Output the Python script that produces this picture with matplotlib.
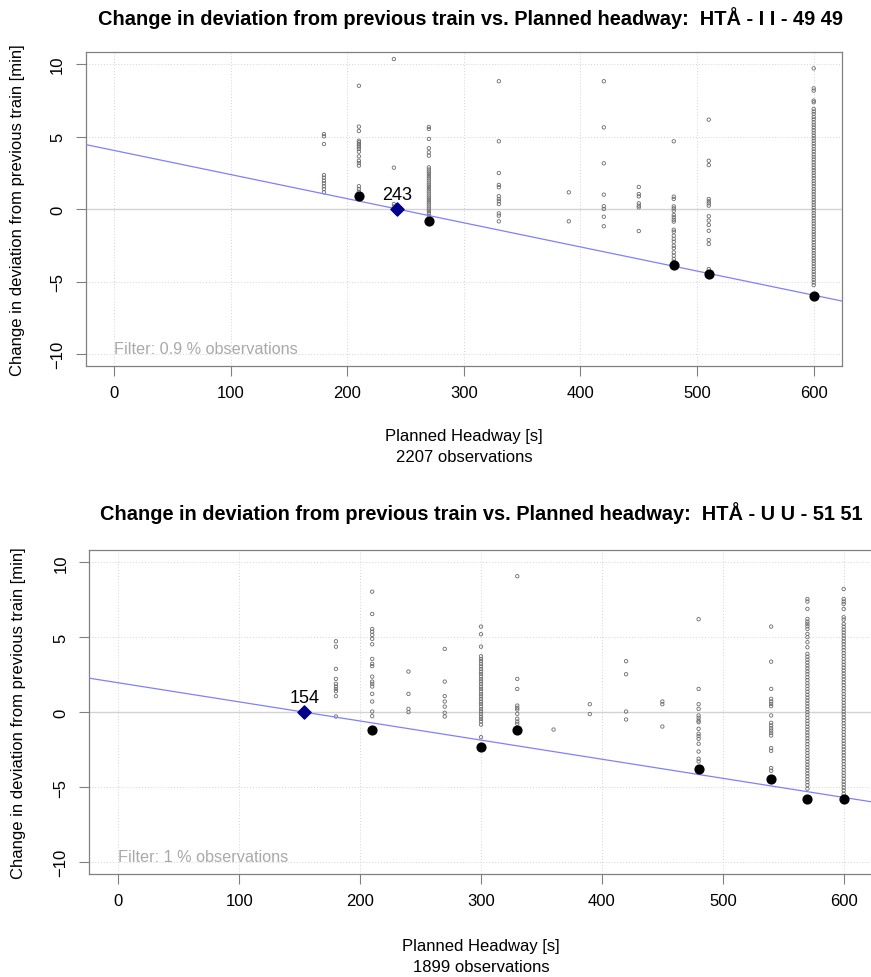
import matplotlib
matplotlib.use("Agg")
import matplotlib.pyplot as plt

plt.rcParams['font.family'] = ['Liberation Sans', 'DejaVu Sans']

# ---- top panel: HTÅ - I I - 49 49 ----
top_title = "Change in deviation from previous train vs. Planned headway:  HTÅ - I I - 49 49"
top_n_obs = 2207
top_filter = "Filter: 0.9 % observations"
top_headways = [180, 210, 240, 270, 330, 390, 420, 450, 480, 510, 600]
top_180 = [5.17, 5.01, 4.48, 2.34, 2.16, 1.95, 1.77, 1.57, 1.38, 1.15]
top_210 = [8.5, 5.68, 5.38, 4.71, 4.6, 4.48, 4.37, 4.25, 4.14, 3.95, 3.63, 3.33,
           3.17, 2.99, 1.57, 1.38, 1.19]
top_240 = [10.34, 2.85, 0.34, 0.18]
top_270 = [5.66, 5.52, 4.83, 4.19, 3.91, 3.68, 2.87, 2.72, 2.57, 2.42, 2.27, 2.12,
           1.97, 1.82, 1.67, 1.52, 1.37, 1.22, 1.07, 0.92, 0.77, 0.62, 0.47, 0.32,
           0.17, 0.02, -0.13, -0.28, -0.46]
top_330 = [8.81, 4.67, 2.48, 1.66, 1.5, 0.88, 0.69, 0.53, 0.34, -0.3, -0.46, -0.85]
top_390 = [1.15, -0.85]
top_420 = [8.81, 5.63, 3.15, 0.99, 0.19, 0.0, -0.53, -1.19]
top_450 = [1.52, 1.03, 0.87, 0.39, 0.23, 0.11, -1.52]
top_480 = [4.67, 0.85, 0.69, 0.18, 0.04, -0.12, -0.41, -0.57, -0.74, -0.87, -1.43,
           -1.57, -1.84, -2.07, -2.26, -2.53, -2.71, -2.99, -3.22, -3.45, -3.63]
top_510 = [6.16, 3.33, 3.03, 0.69, 0.53, 0.39, 0.23, -0.5, -0.8, -1.1, -1.5, -2.14,
           -2.41, -4.14]
top_600 = [9.7, 8.32, 8.16, 7.47, 7.36, 6.9, 6.72, 6.55, 6.35, 6.18, 5.98, 5.8, 5.62,
           5.43, 5.25, 5.06, 4.88, 4.7, 4.51, 4.33, 4.14, 3.96, 3.77, 3.59, 3.41,
           3.22, 3.04, 2.85, 2.67, 2.49, 2.3, 2.12, 1.93, 1.75, 1.57, 1.38, 1.2, 1.01,
           0.83, 0.64, 0.46, 0.28, 0.09, -0.09, -0.28, -0.46, -0.64, -0.83, -1.01,
           -1.2, -1.38, -1.57, -1.75, -1.93, -2.12, -2.3, -2.49, -2.67, -2.85, -3.04,
           -3.22, -3.41, -3.59, -3.77, -3.96, -4.14, -4.33, -4.51, -4.7, -4.88,
           -5.06, -5.25]
top_low_x = [210, 270, 480, 510, 600]
top_low_y = [0.88, -0.83, -3.84, -4.48, -5.98]
top_intercept = 4.04
top_slope = -0.01664
top_cross = 243

# ---- bottom panel: HTÅ - U U - 51 51 ----
bot_title = "Change in deviation from previous train vs. Planned headway:  HTÅ - U U - 51 51"
bot_n_obs = 1899
bot_filter = "Filter: 1 % observations"
bot_headways = [180, 210, 240, 270, 300, 330, 360, 390, 420, 450, 480, 540, 570, 600]
bot_180 = [4.73, 4.37, 2.89, 2.22, 1.89, 1.71, 1.55, 1.4, 1.07, -0.29]
bot_210 = [8.04, 6.55, 5.55, 5.37, 5.15, 4.89, 4.53, 3.55, 3.22, 3.07, 2.37, 2.04,
           1.89, 1.71, 1.22, 0.71, 0.04, -0.27]
bot_240 = [2.71, 1.22, 0.22, 0.0]
bot_270 = [4.22, 2.04, 1.07, 0.71, 0.37, -0.04, -0.29]
bot_300 = [5.71, 5.2, 4.37, 3.73, 3.55, 3.4, 3.22, 3.05, 2.88, 2.7, 2.55, 2.38, 2.2,
           2.05, 1.88, 1.7, 1.55, 1.38, 1.2, 1.05, 0.88, 0.7, 0.55, 0.38, 0.2, 0.05,
           -0.12, -0.3, -0.45, -0.62, -0.83, -1.67]
bot_330 = [9.07, 2.22, 1.55, 0.44, 0.29, 0.17, -0.11, -0.44, -0.63, -0.78]
bot_360 = [-1.16]
bot_390 = [0.53, -0.13]
bot_420 = [3.4, 2.53, 0.04, -0.49]
bot_450 = [0.71, 0.53, -0.96]
bot_480 = [6.2, 1.55, 0.53, 0.22, -0.22, -0.38, -0.56, -0.67, -1.11, -1.44, -1.6,
           -1.78, -2.11, -2.63, -3.11, -3.29]
bot_540 = [5.71, 3.37, 1.55, 0.89, 0.71, 0.55, 0.4, -0.22, -0.71, -0.89, -1.07,
           -1.23, -1.38, -1.56, -2.4, -2.58, -3.73, -3.91]
bot_570 = [7.55, 7.38, 6.89, 6.22, 6.04, 5.89, 5.73, 5.55, 5.22, 5.0, 4.67, 4.33,
           3.89, 3.7, 3.5, 3.31, 3.11, 2.92, 2.72, 2.53, 2.33, 2.14, 1.94, 1.75, 1.55,
           1.36, 1.16, 0.97, 0.77, 0.58, 0.38, 0.19, 0.0, -0.19, -0.38, -0.58, -0.77,
           -0.97, -1.16, -1.36, -1.55, -1.75, -1.94, -2.14, -2.33, -2.53, -2.72,
           -2.92, -3.11, -3.31, -3.5, -3.7, -3.89, -4.09, -4.28, -4.48, -4.67, -4.87,
           -5.11]
bot_600 = [8.22, 7.55, 7.38, 7.22, 6.89, 6.33, 6.17, 5.89, 5.7, 5.5, 5.31, 5.11,
           4.92, 4.72, 4.53, 4.33, 4.14, 3.94, 3.75, 3.55, 3.36, 3.16, 2.97, 2.77,
           2.58, 2.38, 2.19, 1.99, 1.8, 1.6, 1.41, 1.21, 1.02, 0.82, 0.63, 0.43, 0.24,
           0.04, -0.15, -0.35, -0.54, -0.74, -0.93, -1.13, -1.32, -1.52, -1.71, -1.91,
           -2.1, -2.3, -2.49, -2.69, -2.88, -3.08, -3.27, -3.47, -3.66, -3.86, -4.05,
           -4.25, -4.44, -4.64, -4.83, -5.03, -5.22, -5.45]
bot_low_x = [210, 300, 330, 480, 540, 570, 600]
bot_low_y = [-1.16, -2.33, -1.16, -3.78, -4.45, -5.78, -5.78]
bot_intercept = 1.96
bot_slope = -0.01275
bot_cross = 154

top_cols = [top_180, top_210, top_240, top_270, top_330, top_390, top_420,
            top_450, top_480, top_510, top_600]
bot_cols = [bot_180, bot_210, bot_240, bot_270, bot_300, bot_330, bot_360,
            bot_390, bot_420, bot_450, bot_480, bot_540, bot_570, bot_600]

W, H = 871, 978
fig = plt.figure(figsize=(W / 100, H / 100), dpi=100)


def px_axes(left, top, right, bottom):
    return fig.add_axes([left / W, 1 - bottom / H, (right - left) / W, (bottom - top) / H])


def draw_panel(ax, headways, cols, low_x, low_y, intercept, slope, cross, filt):
    ax.set_xlim(-24, 624)
    ax.set_ylim(-10.8, 10.8)
    for g in range(0, 601, 100):
        ax.axvline(g, color='#d3d3d3', lw=0.7, ls=(0, (1, 2)), zorder=0)
    for g in [-10, -5, 5, 10]:
        ax.axhline(g, color='#d3d3d3', lw=0.7, ls=(0, (1, 2)), zorder=0)
    ax.axhline(0, color='#d3d3d3', lw=1.0, zorder=0)
    for h, vals in zip(headways, cols):
        ax.scatter([h] * len(vals), vals, s=6, facecolors='none',
                   edgecolors='#6a6a6a', linewidths=0.6, zorder=2)
    ax.axline((0, intercept), slope=slope, color='#8080ff', lw=0.9, zorder=3)
    ax.scatter(low_x, low_y, s=40, color='black', zorder=4)
    ax.scatter([cross], [0], marker='D', s=45, color='#00008b', zorder=5)
    ax.annotate(str(cross), (cross, 0), xytext=(0, 10.5), textcoords='offset points',
                ha='center', va='center', fontsize=13)
    ax.text(0, -9.65, filt, color='#a9a9a9', fontsize=11.7, va='center', ha='left')
    ax.set_xticks(range(0, 601, 100))
    ax.set_yticks([-10, -5, 0, 5, 10])
    ax.tick_params(axis='both', colors='#808080', labelcolor='black', labelsize=12,
                   length=7, width=0.8)
    ax.tick_params(axis='x', pad=7)
    ax.tick_params(axis='y', pad=8)
    for lab in ax.get_yticklabels():
        lab.set_rotation(90)
        lab.set_va('center')
    for sp in ax.spines.values():
        sp.set_color('#808080')
        sp.set_linewidth(0.9)


ax1 = px_axes(86, 53.4, 841.7, 366.6)
draw_panel(ax1, top_headways, top_cols, top_low_x, top_low_y,
           top_intercept, top_slope, top_cross, top_filter)
ax2 = px_axes(89.3, 551.3, 872.7, 875)
draw_panel(ax2, bot_headways, bot_cols, bot_low_x, bot_low_y,
           bot_intercept, bot_slope, bot_cross, bot_filter)

ylab = "Change in deviation from previous train [min]"
fig.text(470 / W, 1 - 18 / H, top_title, ha='center', va='center',
         fontsize=14.4, fontweight='bold')
fig.text(464 / W, 1 - 437 / H, "Planned Headway [s]", ha='center', va='center', fontsize=12)
fig.text(464 / W, 1 - 457 / H, f"{top_n_obs} observations", ha='center', va='center', fontsize=12)
fig.text(18 / W, 1 - 210 / H, ylab, rotation=90, ha='center', va='center', fontsize=12)

fig.text(481 / W, 1 - 513 / H, bot_title, ha='center', va='center',
         fontsize=14.4, fontweight='bold')
fig.text(481 / W, 1 - 947 / H, "Planned Headway [s]", ha='center', va='center', fontsize=12)
fig.text(481 / W, 1 - 968 / H, f"{bot_n_obs} observations", ha='center', va='center', fontsize=12)
fig.text(19 / W, 1 - 713 / H, ylab, rotation=90, ha='center', va='center', fontsize=12)

fig.savefig("out.png", dpi=100)
